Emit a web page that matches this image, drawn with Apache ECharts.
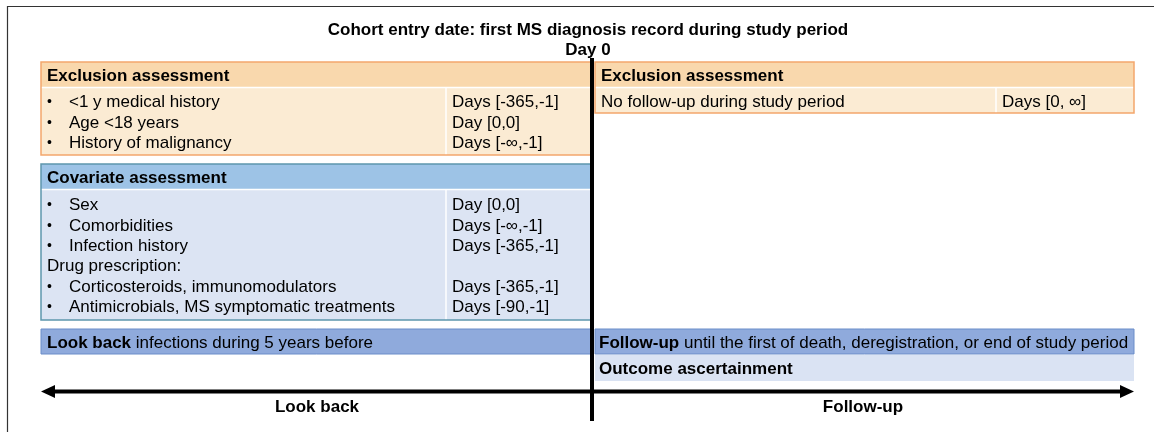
<!DOCTYPE html>
<html>
<head>
<meta charset="utf-8">
<script src="https://cdn.jsdelivr.net/npm/echarts@6/dist/echarts.min.js"></script>
<style>
html,body{margin:0;padding:0;background:#fff;}
#chart{width:1154px;height:432px;}
</style>
</head>
<body>
<div id="chart"></div>
<script>
// ---- content ----
const titleText = "Cohort entry date: first MS diagnosis record during study period";
const dayZeroText = "Day 0";
const exclusionTitle = "Exclusion assessment";
const exclusionBeforeItems = ["<1 y medical history", "Age <18 years", "History of malignancy"];
const exclusionBeforeWindows = ["Days [-365,-1]", "Day [0,0]", "Days [-\u221e,-1]"];
const exclusionAfterItems = ["No follow-up during study period"];
const exclusionAfterWindows = ["Days [0, \u221e]"];
const covariateTitle = "Covariate assessment";
const covariateItems = ["Sex", "Comorbidities", "Infection history", "Drug prescription:", "Corticosteroids, immunomodulators", "Antimicrobials, MS symptomatic treatments"];
const covariateBullets = [true, true, true, false, true, true];
const covariateWindows = ["Day [0,0]", "Days [-\u221e,-1]", "Days [-365,-1]", "", "Days [-365,-1]", "Days [-90,-1]"];
const lookBackBold = "Look back";
const lookBackRest = " infections during 5 years before";
const followUpBold = "Follow-up";
const followUpRest = " until the first of death, deregistration, or end of study period";
const outcomeText = "Outcome ascertainment";
const axisLabels = ["Look back", "Follow-up"];

// ---- layout / style ----
const FONT = '"Liberation Sans", Arial, sans-serif';
const FS = 17;
const DY = 1.5;
const L = { x0: 41, xMid: 592, x1: 1134, leftCol: 446, rightCol: 996, rowH: 20.4 };
const C = {
  orHead: '#f9d8ad', orBody: '#fbebd3', orBorder: '#f3a66c',
  blHead: '#9dc3e6', blBody: '#dce4f3', blBorder: '#5e96ad',
  lbBar: '#8faadc', lbBorder: '#6b8dc9', outBody: '#dae3f3', sep: '#ffffff'
};

const els = [];
function rect(x, y, w, h, fill, stroke, lw) {
  els.push({ type: 'rect', shape: { x, y, width: w, height: h },
    style: { fill: fill, stroke: stroke || null, lineWidth: lw || 0 } });
}
function line(x1, y1, x2, y2, stroke, lw) {
  els.push({ type: 'line', shape: { x1, y1, x2, y2 }, style: { stroke, lineWidth: lw } });
}
function text(t, x, y, opts) {
  opts = opts || {};
  els.push({ type: 'text', x, y: y + DY, style: {
    text: t, fill: '#000', font: (opts.bold ? 'bold ' : '') + (opts.size || FS) + 'px ' + FONT,
    textAlign: opts.align || 'left', textVerticalAlign: 'middle' } });
}
function richText(bold, rest, x, y) {
  els.push({ type: 'text', x, y: y + DY, style: {
    text: '{b|' + bold + '}{n|' + rest + '}', textAlign: 'left', textVerticalAlign: 'middle',
    rich: { b: { fontFamily: FONT, fontSize: FS, fontWeight: 'bold', fill: '#000' },
            n: { fontFamily: FONT, fontSize: FS, fill: '#000' } } } });
}

// outer frame
line(7, 6.5, 1160, 6.5, '#333', 1.2);
line(7.5, 6, 7.5, 440, '#333', 1.2);

// title
text(titleText, 588, 29, { bold: true, align: 'center' });
text(dayZeroText, 588, 49, { bold: true, align: 'center' });

function tableBox(x, y, w, headH, bodyH, headFill, bodyFill, border, title, items, bullets, windows, colX, rowStart) {
  rect(x, y, w, headH, headFill);
  rect(x, y + headH, w, bodyH, bodyFill);
  line(x, y + headH + 0.5, x + w, y + headH + 0.5, C.sep, 1.5);
  line(colX, y + headH, colX, y + headH + bodyH, C.sep, 1.5);
  rect(x, y, w, headH + bodyH, null, border, 1.5);
  text(title, x + 6, y + headH / 2, { bold: true });
  items.forEach(function (it, i) {
    const yy = rowStart + i * L.rowH;
    if (bullets[i]) {
      text('\u2022', x + 6, yy, { size: 14 });
      text(it, x + 28, yy);
    } else {
      text(it, x + 6, yy);
    }
    if (windows[i]) text(windows[i], colX + 6, yy);
  });
}
tableBox(L.x0, 62, L.xMid - L.x0, 25, 68, C.orHead, C.orBody, C.orBorder, exclusionTitle,
  exclusionBeforeItems, exclusionBeforeItems.map(() => true), exclusionBeforeWindows, L.leftCol, 101);
tableBox(L.xMid + 3, 62, L.x1 - L.xMid - 3, 25, 26, C.orHead, C.orBody, C.orBorder, exclusionTitle,
  exclusionAfterItems, [false], exclusionAfterWindows, L.rightCol, 101);
tableBox(L.x0, 164, L.xMid - L.x0, 25, 131, C.blHead, C.blBody, C.blBorder, covariateTitle,
  covariateItems, covariateBullets, covariateWindows, L.leftCol, 204);

// look back / follow-up bars
rect(L.x0, 329, L.xMid - L.x0, 25, C.lbBar, C.lbBorder, 1);
richText(lookBackBold, lookBackRest, L.x0 + 6, 341.5);
rect(L.xMid + 3, 329, L.x1 - L.xMid - 3, 25, C.lbBar, C.lbBorder, 1);
richText(followUpBold, followUpRest, L.xMid + 7, 341.5);
rect(L.xMid + 3, 355, L.x1 - L.xMid - 3, 26, C.outBody);
text(outcomeText, L.xMid + 7, 367.5, { bold: true });

// horizontal timeline arrow
line(L.x0 + 10, 391.5, L.x1 - 10, 391.5, '#000', 4);
els.push({ type: 'polygon', shape: { points: [[L.x0, 391.5], [L.x0 + 14, 385], [L.x0 + 14, 398]] }, style: { fill: '#000' } });
els.push({ type: 'polygon', shape: { points: [[L.x1, 391.5], [L.x1 - 14, 385], [L.x1 - 14, 398]] }, style: { fill: '#000' } });
text(axisLabels[0], 317, 406, { bold: true, align: 'center' });
text(axisLabels[1], 863, 406, { bold: true, align: 'center' });

// day 0 vertical line
line(L.xMid, 58, L.xMid, 421, '#000', 4);

const chart = echarts.init(document.getElementById('chart'), null, { renderer: 'canvas' });
chart.setOption({ backgroundColor: '#fff', animation: false, graphic: { elements: els } });
</script>
</body>
</html>
